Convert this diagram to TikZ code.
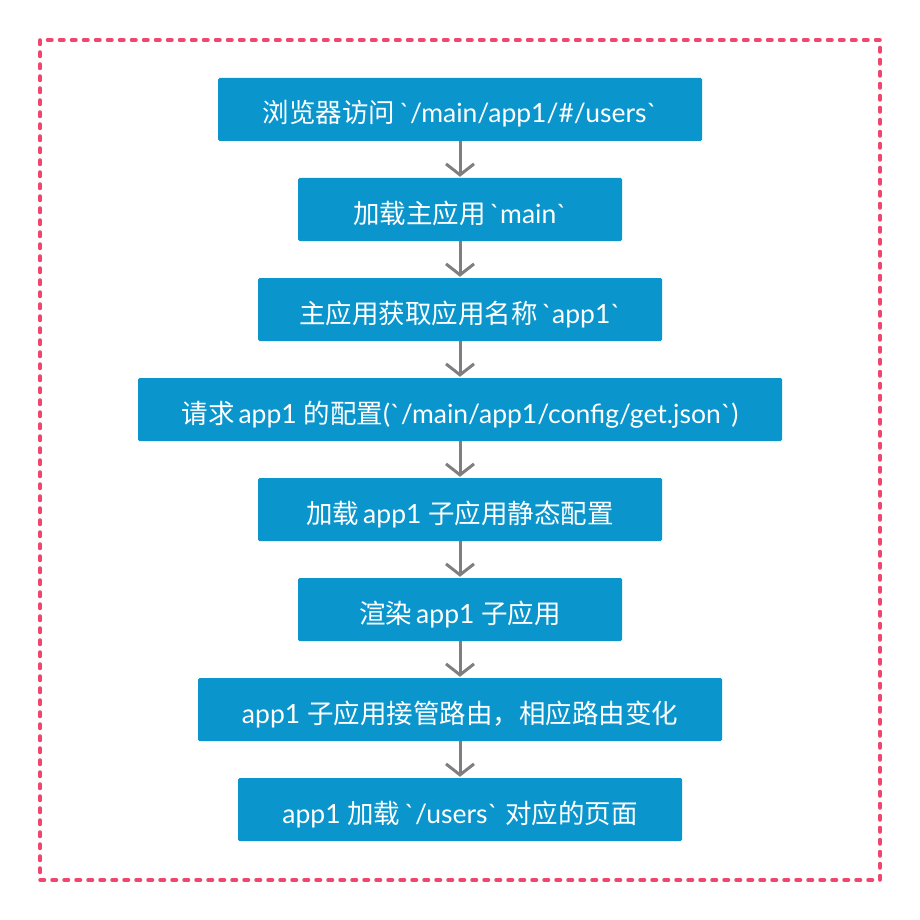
\documentclass[tikz,border=0pt]{standalone}
\usepackage{fontspec}
\setmainfont{Lato}
\newfontfamily\cjk{Noto Sans CJK SC}
\usetikzlibrary{arrows.meta}
\definecolor{boxblue}{HTML}{0A96CD}
\definecolor{frame}{HTML}{F0466E}
\definecolor{arr}{HTML}{7F7F7F}
\tikzset{
  stepbox/.style={fill=boxblue, text=white, minimum height=63pt, inner sep=0pt, rounded corners=1.5pt, font=\fontsize{26.5}{30}\selectfont, text height=28pt, text depth=1pt, anchor=center},
  flow/.style={draw=arr, line width=3pt, -{Straight Barb[length=11pt,width=28pt,line width=3pt]}, shorten >=1pt}
}
\newcommand{\bq}{\textasciigrave}
\newcommand{\gapsp}{\hspace{4pt}}
\begin{document}
\begin{tikzpicture}[x=1pt,y=-1pt]
\useasboundingbox (0,0) rectangle (920,920);
\draw[frame, line width=3.5pt, dash pattern=on 4.5pt off 7.5pt, line cap=round] (40,40) rectangle (880,880);
\node[stepbox, minimum width=484pt] (n1) at (460,109.5) {{\cjk 浏览器访问}\gapsp\bq/main/app1/\#/users\bq};
\node[stepbox, minimum width=324pt] (n2) at (460,209.5) {{\cjk 加载主应用}\gapsp\bq main\bq};
\node[stepbox, minimum width=404pt] (n3) at (460,309.5) {{\cjk 主应用获取应用名称}\gapsp\bq app1\bq};
\node[stepbox, minimum width=644pt] (n4) at (460,409.5) {{\cjk 请求}\gapsp app1 {\cjk 的配置}(\bq/main/app1/config/get.json\bq)};
\node[stepbox, minimum width=404pt] (n5) at (460,509.5) {{\cjk 加载}\gapsp app1 {\cjk 子应用静态配置}};
\node[stepbox, minimum width=324pt] (n6) at (460,609.5) {{\cjk 渲染}\gapsp app1 {\cjk 子应用}};
\node[stepbox, minimum width=524pt] (n7) at (460,709.5) {app1 {\cjk 子应用接管路由，相应路由变化}};
\node[stepbox, minimum width=444pt] (n8) at (460,809.5) {app1 {\cjk 加载}\gapsp\bq/users\bq\ {\cjk 对应的页面}};
\foreach \a/\b in {n1/n2,n2/n3,n3/n4,n4/n5,n5/n6,n6/n7,n7/n8}
  \draw[flow] (\a.south) -- (\b.north);
\end{tikzpicture}
\end{document}
